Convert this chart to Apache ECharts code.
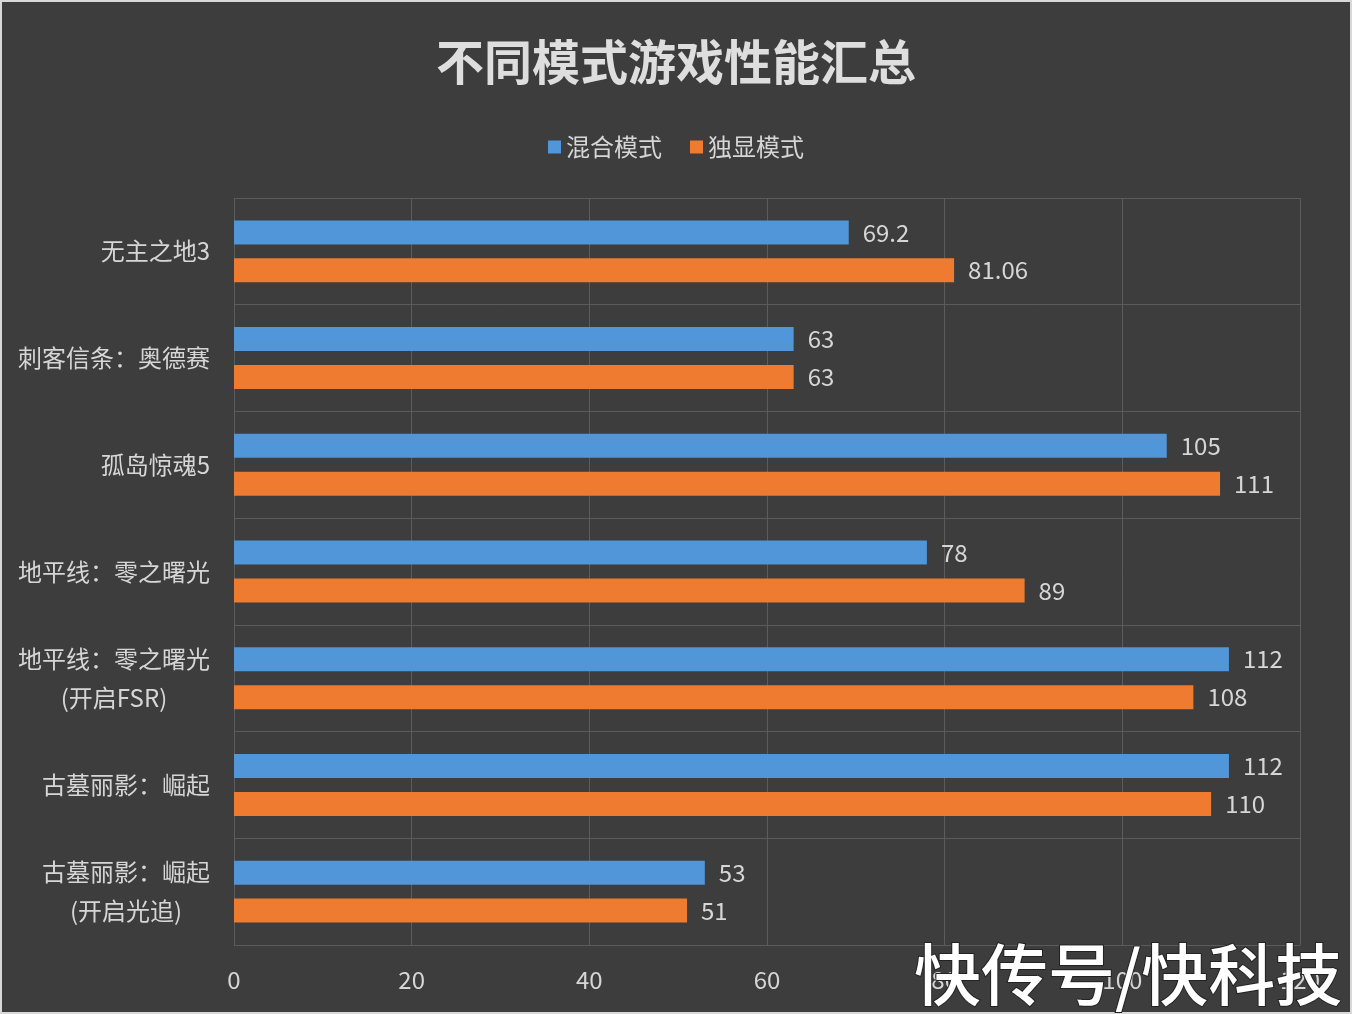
<!DOCTYPE html>
<html><head><meta charset="utf-8">
<script src="https://cdn.jsdelivr.net/npm/echarts@6/dist/echarts.min.js"></script>
<style>html,body{margin:0;padding:0;background:#3d3d3d;}#c{width:1352px;height:1014px;}</style>
</head><body><div id="c"></div>
<script>
const categories = ['无主之地3', '刺客信条：奥德赛', '孤岛惊魂5', '地平线：零之曙光', '地平线：零之曙光\n(开启FSR)', '古墓丽影：崛起', '古墓丽影：崛起\n(开启光追)'];
const mixedMode = [69.2, 63, 105, 78, 112, 112, 53];
const discreteMode = [81.06, 63, 111, 89, 108, 110, 51];
const seriesNames = ['混合模式', '独显模式'];
const xTicks = [0, 20, 40, 60, 80, 100, 120];

const FONT = '"Noto Sans CJK SC", "Noto Sans", sans-serif';
const chart = echarts.init(document.getElementById('c'));
chart.setOption({
  backgroundColor: '#3d3d3d',
  animation: false,
  textStyle: { fontFamily: FONT },
  title: {
    text: '不同模式游戏性能汇总', left: 'center', top: 33,
    textStyle: { color: '#dedede', fontSize: 48, fontWeight: 'bold', fontFamily: FONT }
  },
  legend: {
    data: seriesNames, top: 130, left: 'center', icon: 'rect',
    itemWidth: 13, itemHeight: 13, itemGap: 28,
    textStyle: { color: '#d6d6d6', fontSize: 24, fontFamily: FONT, padding: [0, 0, 0, 0] }
  },
  grid: { left: 234, right: 52, top: 198, bottom: 69, containLabel: false },
  xAxis: {
    type: 'value', min: xTicks[0], max: xTicks[xTicks.length - 1], interval: 20,
    axisLine: { show: false }, axisTick: { show: false },
    axisLabel: { color: '#d6d6d6', fontSize: 24, margin: 23, fontFamily: FONT },
    splitLine: { show: true, lineStyle: { color: '#5c5c5c', width: 1 } }
  },
  yAxis: {
    type: 'category', data: categories, inverse: true,
    axisLine: { show: false }, axisTick: { show: false },
    splitLine: { show: true, lineStyle: { color: '#5c5c5c', width: 1 } },
    axisLabel: {
      margin: 24, fontSize: 24, color: '#d6d6d6', fontFamily: FONT, lineHeight: 39,
      formatter: function (v) { return v.split('\n').map(s => '{a|' + s + '}').join('\n'); },
      rich: { a: { align: 'center', fontSize: 24, color: '#d6d6d6', lineHeight: 39, fontFamily: FONT } }
    }
  },
  series: [
    {
      name: seriesNames[0], type: 'bar', data: mixedMode, barWidth: 24, barGap: '58%',
      itemStyle: { color: '#5096d8' },
      label: { show: true, position: 'right', distance: 14, color: '#d6d6d6', fontSize: 24, fontFamily: FONT }
    },
    {
      name: seriesNames[1], type: 'bar', data: discreteMode, barWidth: 24, barGap: '58%',
      itemStyle: { color: '#ee7b2f' },
      label: { show: true, position: 'right', distance: 14, color: '#d6d6d6', fontSize: 24, fontFamily: FONT }
    }
  ],
  graphic: [
    { type: 'rect', shape: { x: 0, y: 0, width: 1352, height: 1014 }, style: { fill: 'none', stroke: '#d8d8d8', lineWidth: 4 }, z: 100 },
    { type: 'text', left: 913, top: 940, z: 101,
      style: { text: '快传号/快科技', fill: '#ffffff', font: '500 67px "Noto Sans CJK SC", sans-serif', stroke: '#222', lineWidth: 2,
        shadowColor: 'rgba(0,0,0,0.6)', shadowBlur: 3 } }
  ]
});
</script></body></html>
